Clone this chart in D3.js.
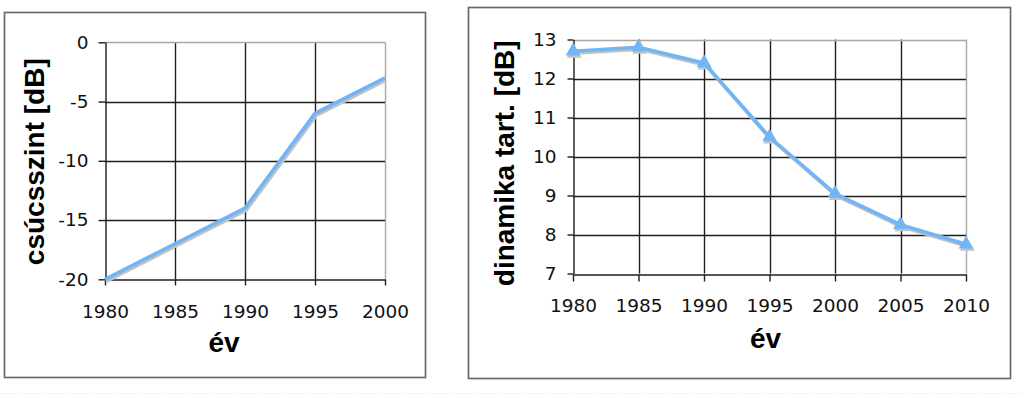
<!DOCTYPE html>
<html>
<head>
<meta charset="utf-8">
<script src="https://cdn.jsdelivr.net/npm/d3@7"></script>
<style>
  html, body { margin: 0; padding: 0; background: #fff; }
  svg { display: block; }
</style>
</head>
<body>
<svg id="chart" width="1023" height="395"></svg>
<script>
// ---- data ----
const yearsA = [1980, 1985, 1990, 1995, 2000];
const peakLevel = [-20, -17, -14, -6, -3];
const yTicksA = [0, -5, -10, -15, -20];
const yTickLabelsA = ["0", "-5", "-10", "-15", "-20"];
const titleYA = "csúcsszint [dB]";

const yearsB = [1980, 1985, 1990, 1995, 2000, 2005, 2010];
const dynRange = [12.7, 12.8, 12.4, 10.5, 9.05, 8.25, 7.75];
const yTicksB = [13, 12, 11, 10, 9, 8, 7];
const yTickLabelsB = ["13", "12", "11", "10", "9", "8", "7"];
const titleYB = "dinamika tart. [dB]";
const titleX = "év";

// ---- styles ----
const LINE = "#72b5f6";
const SHADOW = "#c2c2c2";
const GRID = "#1e1e1e";
const BORDER = "#a8a8a8";
const FRAME = "#6a6a6a";
const TICKFONT = "'DejaVu Sans', Verdana, sans-serif";
const TITLEFONT = "'Liberation Sans', Arial, sans-serif";

const svg = d3.select("#chart");

// faint dotted line at the bottom
svg.append("line").attr("x1", 0).attr("x2", 1023).attr("y1", 393.5).attr("y2", 393.5)
  .attr("stroke", "#e4e4e4").attr("stroke-width", 1).attr("stroke-dasharray", "1,2");

function drawChart(cfg) {
  const g = svg.append("g");
  // outer frame
  g.append("rect").attr("x", cfg.frame[0]).attr("y", cfg.frame[1])
    .attr("width", cfg.frame[2] - cfg.frame[0]).attr("height", cfg.frame[3] - cfg.frame[1])
    .attr("fill", "#fff").attr("stroke", FRAME).attr("stroke-width", 1.7);

  const x = d3.scaleLinear().domain(cfg.xDomain).range([cfg.plot[0], cfg.plot[2]]);
  const y = d3.scaleLinear().domain(cfg.yDomain).range([cfg.plot[3], cfg.plot[1]]);

  // grid: interior lines black, top and right border gray
  const xMax = cfg.xDomain[1], yMax = cfg.yDomain[1];
  g.append("g").selectAll("line").data(cfg.xTicks.filter(d => d !== cfg.xDomain[0]))
    .join("line")
    .attr("x1", d => Math.round(x(d)) + 0.5).attr("x2", d => Math.round(x(d)) + 0.5)
    .attr("y1", y(cfg.yDomain[0])).attr("y2", y(yMax))
    .attr("stroke", d => d === xMax ? BORDER : GRID).attr("stroke-width", 1.4);
  g.append("g").selectAll("line").data(cfg.yTicks.filter(d => d !== cfg.yDomain[0]))
    .join("line")
    .attr("y1", d => Math.round(y(d)) + 0.5).attr("y2", d => Math.round(y(d)) + 0.5)
    .attr("x1", x(cfg.xDomain[0])).attr("x2", x(xMax))
    .attr("stroke", d => d === yMax ? BORDER : GRID).attr("stroke-width", 1.4);

  // axes
  const ax = d3.axisBottom(x).tickValues(cfg.xTicks).tickFormat(d => String(d))
    .tickSizeInner(cfg.xTickLen).tickSizeOuter(0).tickPadding(cfg.xPad);
  const ay = d3.axisLeft(y).tickValues(cfg.yTicks).tickFormat((d, i) => cfg.yLabels[i])
    .tickSizeInner(cfg.yTickLen).tickSizeOuter(0).tickPadding(cfg.yPad);

  const gx = g.append("g").attr("transform", `translate(0,${Math.round(y(cfg.yDomain[0])) + 0.5})`).call(ax);
  const gy = g.append("g").attr("transform", `translate(${Math.round(x(cfg.xDomain[0])) + 0.5},0)`).call(ay);
  [gx, gy].forEach(a => {
    a.select(".domain").attr("stroke", GRID).attr("stroke-width", 1.4);
    a.selectAll(".tick line").attr("stroke", GRID).attr("stroke-width", 1.4);
    a.selectAll(".tick text").attr("fill", "#111")
      .style("font-family", TICKFONT).style("font-size", "18.5px");
  });

  // shadow + line
  const pts = cfg.xs.map((d, i) => [x(d), y(cfg.ys[i])]);
  const line = d3.line();
  g.append("path").attr("d", line(pts.map(p => [p[0] + 1.2, p[1] + 2])))
    .attr("fill", "none").attr("stroke", SHADOW).attr("stroke-width", 3.6)
    .attr("stroke-linejoin", "round");
  if (cfg.markers) {
    g.append("g").selectAll("path").data(pts).join("path")
      .attr("d", d3.symbol(d3.symbolTriangle, 95)())
      .attr("transform", p => `translate(${p[0] + 1.2},${p[1] + 2.2})`)
      .attr("fill", SHADOW);
  }
  g.append("path").attr("d", line(pts))
    .attr("fill", "none").attr("stroke", LINE).attr("stroke-width", 3.6)
    .attr("stroke-linejoin", "round");
  if (cfg.markers) {
    g.append("g").selectAll("path").data(pts).join("path")
      .attr("d", d3.symbol(d3.symbolTriangle, 95)())
      .attr("transform", p => `translate(${p[0]},${p[1]})`)
      .attr("fill", LINE);
  }

  // titles
  g.append("text").text(titleX)
    .attr("x", cfg.xTitle[0]).attr("y", cfg.xTitle[1])
    .attr("text-anchor", "middle").attr("fill", "#000")
    .style("font-family", TITLEFONT).style("font-weight", "bold").style("font-size", "28px");
  g.append("text").text(cfg.yTitle)
    .attr("transform", `translate(${cfg.yTitlePos[0]},${cfg.yTitlePos[1]}) rotate(-90)`)
    .attr("text-anchor", "middle").attr("fill", "#000")
    .style("font-family", TITLEFONT).style("font-weight", "bold").style("font-size", "28px");
}

drawChart({
  frame: [4.5, 12.5, 425.5, 377.5],
  plot: [105, 42.3, 385, 279.3],
  xDomain: [1980, 2000], yDomain: [-20, 0],
  xTicks: yearsA, yTicks: yTicksA, yLabels: yTickLabelsA,
  xs: yearsA, ys: peakLevel,
  xTickLen: 6, xPad: 19, yTickLen: 7, yPad: 10,
  markers: false,
  xTitle: [224, 352], yTitle: titleYA, yTitlePos: [44, 161.7]
});

drawChart({
  frame: [468.5, 7.5, 1010.5, 378.5],
  plot: [573, 39.5, 966, 273.5],
  xDomain: [1980, 2010], yDomain: [7, 13],
  xTicks: yearsB, yTicks: yTicksB, yLabels: yTickLabelsB,
  xs: yearsB, ys: dynRange,
  xTickLen: 7, xPad: 17, yTickLen: 6, yPad: 11,
  markers: true,
  xTitle: [765.5, 348], yTitle: titleYB, yTitlePos: [514, 163.3]
});
</script>
</body>
</html>
